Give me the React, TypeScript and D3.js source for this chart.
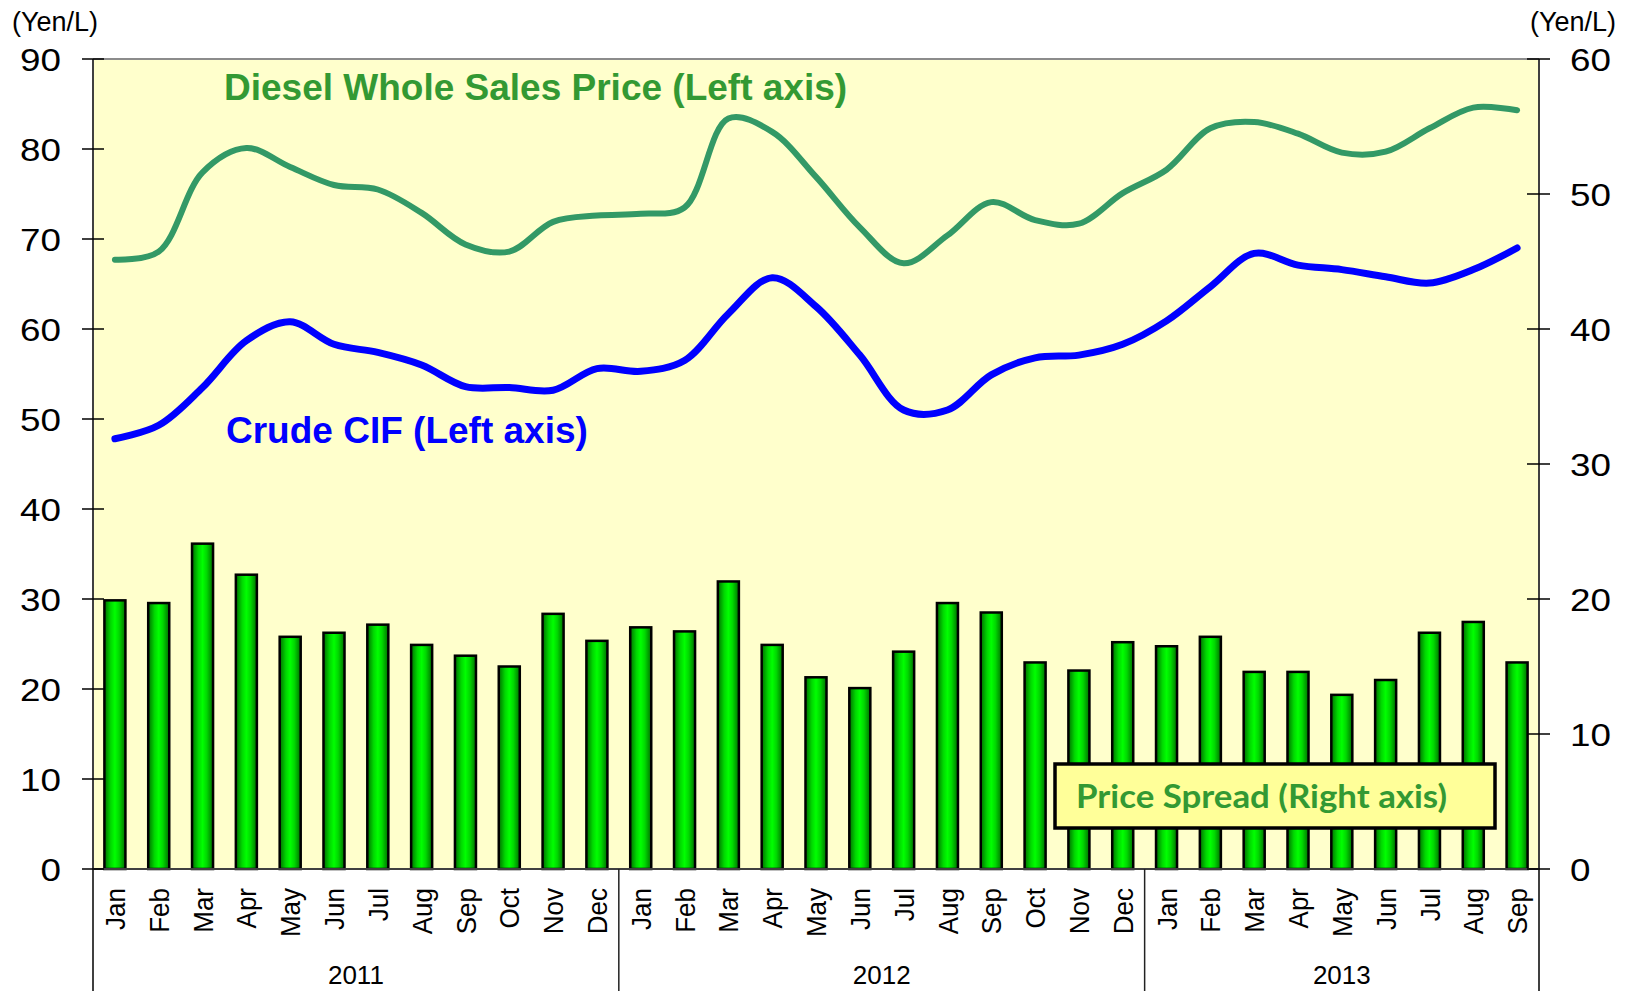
import * as d3 from "d3";

const WIDTH = 1630;
const HEIGHT = 991;
const PLOT = { left: 93, right: 1539, top: 59, bottom: 869 };

const months = [
  "Jan", "Feb", "Mar", "Apr", "May", "Jun", "Jul", "Aug", "Sep", "Oct", "Nov", "Dec",
  "Jan", "Feb", "Mar", "Apr", "May", "Jun", "Jul", "Aug", "Sep", "Oct", "Nov", "Dec",
  "Jan", "Feb", "Mar", "Apr", "May", "Jun", "Jul", "Aug", "Sep",
];
const years = ["2011", "2012", "2013"];
const yearMonths = [12, 12, 9];

// Yen/L, left axis
const diesel = [
  67.7, 68.6, 77.4, 80.1, 78.0, 76.0, 75.5, 72.9, 69.4, 68.6, 71.9, 72.6,
  72.8, 73.5, 83.4, 81.9, 76.9, 71.3, 67.3, 70.4, 74.1, 72.1, 71.7, 75.1,
  77.7, 82.3, 83.0, 81.7, 79.6, 79.7, 82.3, 84.6, 84.3,
];
const crude = [
  47.8, 49.3, 53.5, 58.7, 60.8, 58.3, 57.4, 56.0, 53.6, 53.5, 53.2, 55.6,
  55.3, 56.5, 61.7, 65.7, 62.5, 57.1, 51.0, 51.0, 54.9, 56.8, 57.1, 58.3,
  60.9, 64.7, 68.4, 67.1, 66.6, 65.8, 65.1, 66.6, 69.0,
];
// Yen/L, right axis
const spread = [
  19.9, 19.7, 24.1, 21.8, 17.2, 17.5, 18.1, 16.6, 15.8, 15.0, 18.9, 16.9,
  17.9, 17.6, 21.3, 16.6, 14.2, 13.4, 16.1, 19.7, 19.0, 15.3, 14.7, 16.8,
  16.5, 17.2, 14.6, 14.6, 12.9, 14.0, 17.5, 18.3, 15.3,
];

const leftTicks = [0, 10, 20, 30, 40, 50, 60, 70, 80, 90];
const rightTicks = [0, 10, 20, 30, 40, 50, 60];

const FONT = "'Liberation Sans', Arial, sans-serif";
const AXIS_COLOR = "#404040";
const TICK_STRETCH = 1.15;

export default function App() {
  const x = d3
    .scaleBand<number>()
    .domain(d3.range(months.length))
    .range([PLOT.left, PLOT.right])
    .paddingInner(0.52)
    .paddingOuter(0.26);
  const step = x.step();
  const cx = (i: number) => (x(i) ?? 0) + x.bandwidth() / 2;

  const yLeft = d3.scaleLinear().domain([0, 90]).range([PLOT.bottom, PLOT.top]);
  const yRight = d3.scaleLinear().domain([0, 60]).range([PLOT.bottom, PLOT.top]);

  const lineLeft = d3
    .line<number>()
    .x((_, i) => cx(i))
    .y((d) => yLeft(d))
    .curve(d3.curveCatmullRom.alpha(0.5));

  // year group boundaries
  const bounds: number[] = [0];
  yearMonths.forEach((n) => bounds.push(bounds[bounds.length - 1] + n));

  return (
    <svg
      width={WIDTH}
      height={HEIGHT}
      style={{ position: "absolute", left: 0, top: 0 }}
      fontFamily={FONT}
    >
      <defs>
        <linearGradient id="barGrad" x1="0" x2="1" y1="0" y2="0">
          <stop offset="0%" stopColor="#006e00" />
          <stop offset="30%" stopColor="#00d800" />
          <stop offset="50%" stopColor="#00ff00" />
          <stop offset="70%" stopColor="#00d800" />
          <stop offset="100%" stopColor="#006e00" />
        </linearGradient>
      </defs>
      <rect width={WIDTH} height={HEIGHT} fill="#fff" />
      <rect
        x={PLOT.left}
        y={PLOT.top}
        width={PLOT.right - PLOT.left}
        height={PLOT.bottom - PLOT.top}
        fill="#ffffcc"
      />
      <line x1={PLOT.left} x2={PLOT.right} y1={PLOT.top} y2={PLOT.top} stroke="#8c8c8c" strokeWidth={2} />

      {/* bars: price spread */}
      {spread.map((v, i) => (
        <rect
          key={i}
          x={x(i)}
          y={yRight(v)}
          width={x.bandwidth()}
          height={yRight(0) - yRight(v)}
          fill="url(#barGrad)"
          stroke="#000"
          strokeWidth={2.5}
        />
      ))}

      {/* lines */}
      <path d={lineLeft(diesel) ?? ""} fill="none" stroke="#339966" strokeWidth={6} strokeLinecap="round" />
      <path d={lineLeft(crude) ?? ""} fill="none" stroke="#0000ff" strokeWidth={7} strokeLinecap="round" />

      {/* axes */}
      <line x1={PLOT.left} x2={PLOT.left} y1={PLOT.top} y2={HEIGHT} stroke={AXIS_COLOR} strokeWidth={2} />
      <line x1={PLOT.right} x2={PLOT.right} y1={PLOT.top} y2={HEIGHT} stroke={AXIS_COLOR} strokeWidth={2} />
      <line x1={PLOT.left} x2={PLOT.right} y1={PLOT.bottom} y2={PLOT.bottom} stroke={AXIS_COLOR} strokeWidth={2} />
      {bounds.slice(1, -1).map((b) => (
        <line
          key={b}
          x1={PLOT.left + b * step}
          x2={PLOT.left + b * step}
          y1={PLOT.bottom}
          y2={HEIGHT}
          stroke="#222"
          strokeWidth={1.5}
        />
      ))}

      {leftTicks.map((t) => (
        <g key={`l${t}`}>
          <line x1={PLOT.left - 11} x2={PLOT.left + 11} y1={yLeft(t)} y2={yLeft(t)} stroke="#000" strokeWidth={1.5} />
          <text
            transform={`translate(61,${yLeft(t)}) scale(${TICK_STRETCH},1)`}
            dy="0.36em"
            textAnchor="end"
            fontSize={32}
            fill="#000"
          >
            {t}
          </text>
        </g>
      ))}
      {rightTicks.map((t) => (
        <g key={`r${t}`}>
          <line x1={PLOT.right - 12} x2={PLOT.right + 11} y1={yRight(t)} y2={yRight(t)} stroke="#000" strokeWidth={1.5} />
          <text
            transform={`translate(1570,${yRight(t)}) scale(${TICK_STRETCH},1)`}
            dy="0.36em"
            textAnchor="start"
            fontSize={32}
            fill="#000"
          >
            {t}
          </text>
        </g>
      ))}

      <text x={12} y={31} fontSize={27} fill="#000">(Yen/L)</text>
      <text x={1616} y={31} fontSize={27} fill="#000" textAnchor="end">(Yen/L)</text>

      {/* month labels */}
      {months.map((m, i) => (
        <text
          key={i}
          transform={`translate(${cx(i)},888) rotate(-90) scale(1,1.08)`}
          dy="0.36em"
          textAnchor="end"
          fontSize={26}
          fill="#000"
        >
          {m}
        </text>
      ))}
      {years.map((yr, k) => (
        <text
          key={yr}
          x={PLOT.left + ((bounds[k] + bounds[k + 1]) / 2) * step}
          y={984}
          textAnchor="middle"
          fontSize={26}
          fill="#000"
        >
          {yr}
        </text>
      ))}

      {/* series labels */}
      <text x={224} y={100} fontSize={37} fontWeight="bold" fill="#339933">
        Diesel Whole Sales Price (Left axis)
      </text>
      <text x={226} y={443} fontSize={37} fontWeight="bold" fill="#0000ff">
        Crude CIF (Left axis)
      </text>

      <rect x={1055} y={764} width={440} height={64} fill="#ffff99" stroke="#000" strokeWidth={3.5} />
      <text
        x={1076}
        y={808}
        fontSize={32}
        fontWeight="bold"
        fill="#339933"
        fontFamily="Lato, 'Open Sans', sans-serif"
        textLength={371}
        lengthAdjust="spacingAndGlyphs"
      >
        Price Spread (Right axis)
      </text>
    </svg>
  );
}
